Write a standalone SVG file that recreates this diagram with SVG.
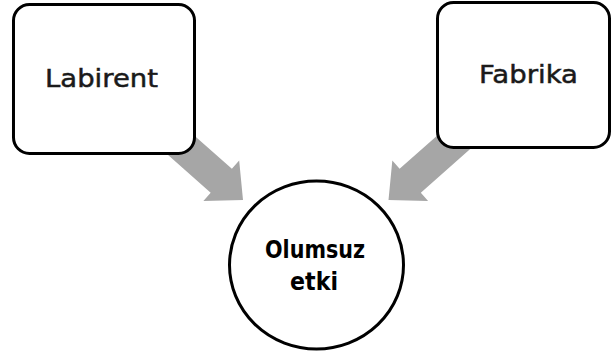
<svg xmlns="http://www.w3.org/2000/svg" width="611" height="354" viewBox="0 0 611 354">
<defs>
<style>
.box{fill:#fff;stroke:#000;stroke-width:3}
.arrow{fill:#a6a6a6;stroke:none}
.lbl{font-family:"DejaVu Sans","Liberation Sans",sans-serif;font-size:25px;fill:#1a1a1a;stroke:#1a1a1a;stroke-width:0.5;text-anchor:middle}
.bold{font-weight:bold;font-size:25px;fill:#000;stroke:none}
</style>
<polygon id="fatArrow" class="arrow" points="0,0 -29,-27 -29,-16 -110,-16 -110,16 -29,16 -29,27"/>
</defs>
<rect width="611" height="354" fill="#fff"/>
<g id="connectors">
<use href="#fatArrow" transform="translate(243,200) rotate(41.5)"/>
<use href="#fatArrow" transform="translate(388.5,200) rotate(138.5)"/>
</g>
<g id="labirent">
<rect class="box" x="13.5" y="4.5" width="181" height="149" rx="16"/>
<text class="lbl" x="101.5" y="86.5" textLength="113" lengthAdjust="spacingAndGlyphs">Labirent</text>
</g>
<g id="fabrika">
<rect class="box" x="437.5" y="2.5" width="172" height="145" rx="16"/>
<text class="lbl" x="528.5" y="82.5" textLength="99" lengthAdjust="spacingAndGlyphs">Fabrika</text>
</g>
<g id="olumsuz-etki">
<ellipse class="box" cx="316.5" cy="265" rx="87" ry="84"/>
<text class="lbl bold" x="315" y="258" textLength="100" lengthAdjust="spacingAndGlyphs">Olumsuz</text>
<text class="lbl bold" x="314" y="290" textLength="48" lengthAdjust="spacingAndGlyphs">etki</text>
</g>
</svg>
